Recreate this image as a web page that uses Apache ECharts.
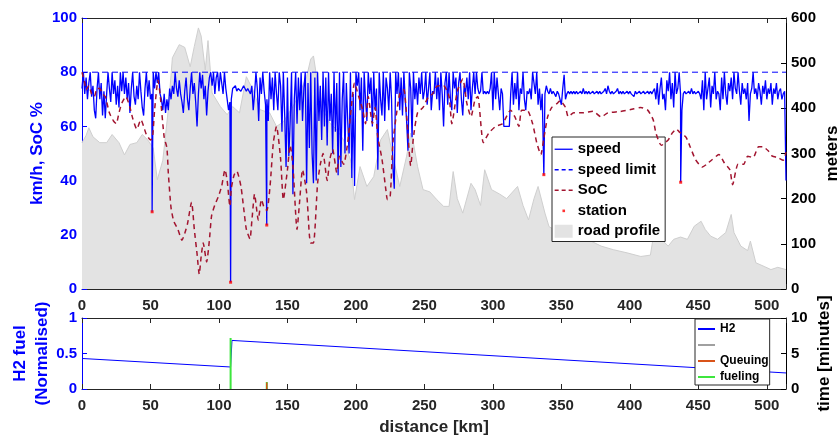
<!DOCTYPE html>
<html><head><meta charset="utf-8">
<script src="https://cdn.jsdelivr.net/npm/echarts@6/dist/echarts.min.js"></script>
<style>html,body{margin:0;padding:0;background:#fff}#c{width:840px;height:441px}</style>
</head><body><div id="c"></div>
<script>
// speed [km/h], one sample per km from 0 to 514
const speedVal = [
74,80,72,78,70,76,80,71,75,66,
63,74,80,70,76,64,73,63,72,80,
74,69,80,72,77,68,75,67,80,73,
80,72,78,70,76,65,74,80,71,68,
75,70,80,73,67,64,74,80,71,77,
70,72,80,74,80,76,80,72,70,66,
72,65,70,66,74,70,75,72,80,74,
71,77,72,69,65,73,78,70,66,74,
80,72,76,69,60,72,80,74,79,70,
75,64,73,78,80,75,80,72,78,80,
73,80,76,72,80,74,70,66,69,70,
74,74,75,73,74,74,73,74,75,74,
73,74,74,72,75,66,72,80,74,62,
78,72,80,73,68,70,62,80,70,78,
66,80,72,66,80,75,58,80,64,45,
78,49,62,80,35,70,80,61,78,66,
80,62,74,80,39,76,52,80,50,39,
78,40,80,62,75,55,80,60,78,53,
80,62,72,50,80,58,76,42,80,45,
70,80,50,76,62,50,80,41,72,38,
80,75,80,66,78,51,80,70,62,80,
72,78,60,80,66,74,44,80,70,64,
80,62,78,74,66,80,70,45,37,80,
72,80,66,78,64,80,70,62,51,80,
74,56,80,70,76,68,78,72,80,70,
73,80,68,74,80,66,73,72,80,70,
78,66,80,72,60,76,80,68,80,70,
66,80,74,78,65,76,80,70,64,75,
72,78,70,80,66,74,80,72,80,74,
72,73,80,72,73,72,73,72,74,80,
66,80,70,78,72,66,74,72,60,60,
60,60,60,72,80,68,76,70,80,66,
74,72,80,70,66,73,72,74,70,80,
76,72,80,68,74,66,72,72,72,75,
73,72,74,72,73,72,71,73,72,70,
68,74,79,70,72,73,72,73,72,73,
72,73,72,72,73,72,74,72,73,72,
73,72,72,73,72,72,73,72,73,72,
72,73,74,72,75,73,72,73,72,72,
73,74,72,73,72,73,72,72,73,72,
73,72,72,71,73,72,72,73,72,72,
73,72,72,73,72,73,72,72,74,70,
76,68,74,78,70,72,66,77,73,80,
70,76,67,80,72,74,80,72,66,72,
73,72,72,73,72,74,72,73,72,72,
73,72,70,77,66,80,70,74,78,67,
75,72,80,70,73,72,66,78,70,80,
72,68,76,73,78,70,80,74,72,80,
73,68,76,72,74,70,76,62,72,74,
80,72,74,70,76,73,68,75,72,77,
70,74,72,76,68,74,72,76,70,73,
74,70,72,73,40
];
const speedLimit = 80;
const stationKm = [51.2, 108.5, 134.9, 337.2, 437.1];
const stationSpeed = [28.5, 2.5, 23.6, 42.2, 39.4];

const socKm = [0,2,3,5,7,9,11,13,15,17,20,23,25,27,29,32,35,37,40,43,45,47,50,51.5,53,55.5,57,60,62,63,65,67,70,73,75,77,80,82,84,85.6,87,88.5,91,93,94.6,97,99.5,102,104.4,106,108,109,111,113,116,118,120,122.6,124,126,128.7,131,133,135,137.3,139.7,142,145,147,150,152,154,157,159,161,164,166,167,169,172,174,176,179,181,183,186,188,191,194,196,199,202,205,207,209,212,214,216,219,222,223,225,227,230,232,235,237,240,242,245,249,253,256,259,264,268,270,274,278,281,284,287,289,293,297,302,307,313,316,319,321,325,329,332,335,337,340,343,347,349,353,355,359,366,373,379,384,393,403,408,413,417,419,423,428,431,434,436,441,444,448,453,456,460,465,469,473,475,479,483,486,490,494,497,501,504,508,512,514];
const socVal = [80,76,73.5,75,72,71,74,74,72,71,65,62,61,65,68.5,71,67,63,59,62.5,60,57,55,56,66,77,72,56,52,43,30,25,22,18,20.5,24,32,22,13,5.5,12,17,10,18,27,31,34,38,44,40,30.5,37,42,43.5,38,30,22,18.5,25,35,25.5,33,30,29,38,54,60,48,33,44,53,45.5,22,33,44,35.5,20,17,17,39,46,50,40,48,51.5,43,49,46,54,64,76,71,66,61,71,61,67,56,48,36,33,34,54,66,72,73.5,64,45.5,56,65,67,71,72,74.8,75,71,61,73,77.5,68.5,63.6,70,71,54,57.5,60,61,66,63.6,60,66,66,61,54,49.6,55,63.6,67,68.5,69.5,67,63.6,65,65,65.6,63.5,65,65.5,66.5,67,66,62.5,57.6,53,55,57.6,59,58,56,52.5,47.7,45,46,47.7,49.6,46.5,44,38.5,46,46,49,48.5,52.5,52.5,51,49,48.5,47.5,50.5];

const roadKm = [0,3,5,8,13,18,22,27,31,35,40,44,48,52,55,59,63,66,71,75,79,82,85,87,90,92,95,101,106,110,115,120,125,130,137,142,147,154,159,164,167,169,172,176,181,186,191,196,199,203,208,213,218,223,227,232,237,240,242,245,249,254,259,264,268,271,274,278,284,287,291,294,299,305,310,318,322,326,330,333,338,341,349,359,369,379,388,398,408,415,418,423,428,432,437,442,447,452,455,459,464,470,474,476,481,486,488,492,498,503,508,514];
const roadM = [324,340,357,337,324,324,342,324,297,320,324,342,330,312,242,285,397,512,541,535,492,537,578,560,485,550,434,404,386,404,390,470,440,397,390,360,370,404,434,470,509,516,456,397,367,353,330,286,198,271,227,249,330,353,294,227,294,345,323,271,220,215,198,183,183,260,200,168,234,220,185,264,220,210,200,227,185,153,200,227,168,138,124,110,110,95,87,80,72,75,132,110,95,110,115,110,139,150,132,117,110,125,165,125,95,85,106,58,50,43,48,43];

const h2Km = [0, 108.5, 109.5, 514];
const h2Val = [0.43, 0.31, 0.684, 0.226];
const fuelKm = [108.5, 134.9];
const fuelMin = [7.2, 1.0];
const queueKm = [134.9];
const queueMin = [0.9];

const xMax = 514;
const F = 'Liberation Sans, Arial, Helvetica, sans-serif';
const DG = '#262626';
const BLUE = '#0000ff';

const speedData = speedVal.map((v, i) => [i, v])
  .concat(stationKm.map((k, i) => [k, stationSpeed[i]]))
  .sort((a, b) => a[0] - b[0]);
const socData = socKm.map((k, i) => [k, socVal[i]]);
const roadData = roadKm.map((k, i) => [k, roadM[i]]);
const stationData = stationKm.map((k, i) => [k, stationSpeed[i]]);
const h2Data = h2Km.map((k, i) => [k, h2Val[i]]);
function stems(ks, vs) {
  const out = [];
  ks.forEach((k, i) => { if (i) out.push(['-', '-']); out.push([k, 0], [k, vs[i]]); });
  return out;
}

const lbl = (c) => ({ color: c, fontFamily: F, fontWeight: 'bold', fontSize: 15 });
function xAx(grid, pos, labels, extra) {
  return Object.assign({
    type: 'value', gridIndex: grid, position: pos, min: 0, max: xMax, interval: 50,
    axisLine: { show: true, onZero: false, lineStyle: { color: DG, width: 1 } },
    axisTick: { show: true, inside: true, length: 5, lineStyle: { color: DG } },
    axisLabel: labels ? Object.assign(lbl(DG), { margin: 9, formatter: v => (v % 50 === 0 ? String(v) : '') }) : { show: false },
    splitLine: { show: false },
    nameMoveOverlap: false
  }, extra || {});
}
function yAx(grid, pos, min, max, iv, color, name, gap, extra) {
  return Object.assign({
    type: 'value', gridIndex: grid, position: pos, min: min, max: max, interval: iv,
    axisLine: { show: true, onZero: false, lineStyle: { color: color, width: 1 } },
    axisTick: { show: true, inside: true, length: 5, lineStyle: { color: color } },
    axisLabel: Object.assign(lbl(color), { margin: 5 }),
    splitLine: { show: false },
    name: name, nameLocation: 'middle', nameGap: gap, nameMoveOverlap: false,
    nameTextStyle: { color: color, fontFamily: F, fontWeight: 'bold', fontSize: 17 }
  }, extra || {});
}
const noSym = { opacity: 0 };

const chart = echarts.init(document.getElementById('c'), null, { renderer: 'canvas' });
chart.setOption({
  animation: false,
  backgroundColor: '#fff',
  grid: [
    { left: 82, right: 54, top: 18, height: 271, outerBoundsMode: 'none' },
    { left: 82, right: 54, top: 318, height: 71, outerBoundsMode: 'none' }
  ],
  xAxis: [
    xAx(0, 'bottom', true),
    xAx(0, 'top', false),
    xAx(1, 'bottom', true, { name: 'distance [km]', nameLocation: 'middle', nameGap: 30,
      nameTextStyle: { color: DG, fontFamily: F, fontWeight: 'bold', fontSize: 17 } }),
    xAx(1, 'top', false)
  ],
  yAxis: [
    yAx(0, 'left', 0, 100, 20, BLUE, 'km/h, SoC %', 36),
    yAx(0, 'right', 0, 600, 100, '#000', 'meters', 38),
    yAx(1, 'left', 0, 1, 0.5, BLUE, 'H2 fuel\n(Normalised)', 29,
      { nameTextStyle: { color: BLUE, fontFamily: F, fontWeight: 'bold', fontSize: 17, lineHeight: 22 } }),
    yAx(1, 'right', 0, 10, 5, '#000', 'time [minutes]', 30)
  ],
  legend: [
    {
      orient: 'vertical', left: 552, top: 137, selectedMode: false,
      backgroundColor: '#fff', borderColor: DG, borderWidth: 1, padding: [4, 5, 2, 2],
      itemWidth: 18, itemHeight: 13, itemGap: 4,
      textStyle: { color: '#000', fontFamily: F, fontWeight: 'bold', fontSize: 15, lineHeight: 16.5 },
      data: [
        { name: 'speed', itemStyle: noSym, lineStyle: { width: 1.3 } },
        { name: 'speed limit', itemStyle: noSym, lineStyle: { width: 1.3, type: [4, 3] } },
        { name: 'SoC', itemStyle: noSym, lineStyle: { width: 1.3, type: [4, 3] } },
        { name: 'station', icon: 'path://M0,0M18,13M7.8,5.3h2.6v2.6h-2.6z', itemStyle: { color: '#ff0000' } },
        { name: 'road profile', icon: 'rect', itemStyle: { color: '#e3e3e3' } }
      ]
    },
    {
      orient: 'vertical', left: 695, top: 319, selectedMode: false,
      backgroundColor: '#fff', borderColor: DG, borderWidth: 1, padding: [4, 1, 2, 2],
      itemWidth: 17, itemHeight: 10, itemGap: 4,
      textStyle: { color: '#000', fontFamily: F, fontWeight: 'bold', fontSize: 12, lineHeight: 12 },
      data: [
        { name: 'H2', itemStyle: noSym },
        { name: ' ', itemStyle: noSym },
        { name: 'Queuing', itemStyle: noSym },
        { name: 'fueling', itemStyle: noSym }
      ]
    }
  ],
  series: [
    { name: 'road profile', type: 'line', xAxisIndex: 0, yAxisIndex: 1, data: roadData, symbol: 'none',
      lineStyle: { color: '#cfcfcf', width: 1 }, itemStyle: { color: '#e3e3e3' },
      areaStyle: { color: '#e3e3e3', opacity: 1 }, z: 1 },
    { name: 'speed', type: 'line', xAxisIndex: 0, yAxisIndex: 0, data: speedData, symbol: 'none',
      lineStyle: { color: BLUE, width: 1.3 }, itemStyle: { color: BLUE }, z: 2 },
    { name: 'speed limit', type: 'line', xAxisIndex: 0, yAxisIndex: 0,
      data: [[0, speedLimit], [xMax, speedLimit]], symbol: 'none',
      lineStyle: { color: BLUE, width: 1, type: [6, 4] }, itemStyle: { color: BLUE }, z: 3 },
    { name: 'SoC', type: 'line', xAxisIndex: 0, yAxisIndex: 0, data: socData, symbol: 'none', smooth: 0.2,
      lineStyle: { color: '#a2142f', width: 1.5, type: [5, 4] }, itemStyle: { color: '#a2142f' }, z: 4 },
    { name: 'station', type: 'scatter', xAxisIndex: 0, yAxisIndex: 0, data: stationData,
      symbol: 'rect', symbolSize: 3, itemStyle: { color: '#ff0000' }, z: 5 },

    { name: 'H2', type: 'line', xAxisIndex: 2, yAxisIndex: 2, data: h2Data, symbol: 'none',
      lineStyle: { color: BLUE, width: 1 }, itemStyle: { color: BLUE }, z: 2 },
    { name: ' ', type: 'line', xAxisIndex: 2, yAxisIndex: 3, data: [], symbol: 'none',
      lineStyle: { color: '#a0a0a0', width: 1.5 }, itemStyle: { color: '#a0a0a0' } },
    { name: 'fueling', type: 'line', xAxisIndex: 2, yAxisIndex: 3, data: stems(fuelKm, fuelMin), symbol: 'none',
      connectNulls: false, lineStyle: { color: '#3de63d', width: 2 }, itemStyle: { color: '#3de63d' }, z: 3 },
    { name: 'Queuing', type: 'line', xAxisIndex: 2, yAxisIndex: 3, data: stems(queueKm, queueMin), symbol: 'none',
      lineStyle: { color: '#d95319', width: 1.5 }, itemStyle: { color: '#d95319' }, z: 4 }
  ]
});
</script>
</body></html>
